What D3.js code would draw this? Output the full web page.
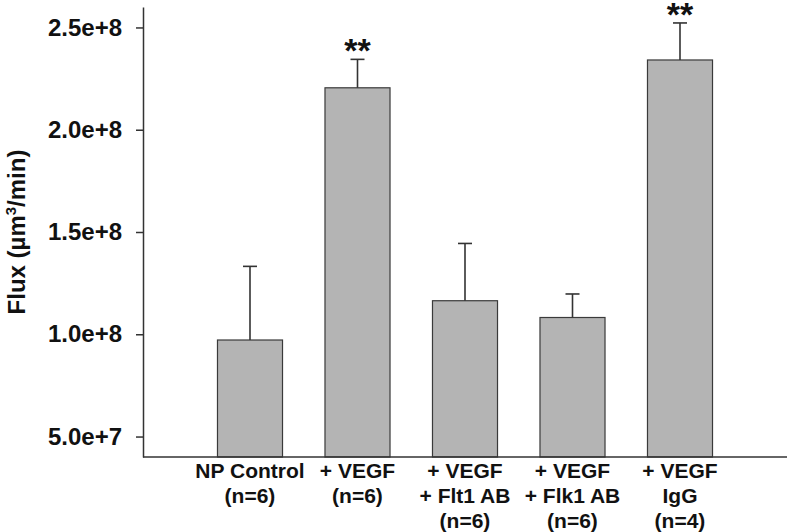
<!DOCTYPE html>
<html>
<head>
<meta charset="utf-8">
<script src="https://cdn.jsdelivr.net/npm/d3@7"></script>
<style>
  html, body { margin: 0; padding: 0; background: #fff; }
  svg { display: block; }
  text { font-family: "Liberation Sans", Arial, Helvetica, sans-serif; font-weight: bold; fill: #111; }
</style>
</head>
<body>
<svg id="chart" width="788" height="532"></svg>
<script>
// ---- data ----
const categories = ["NP Control", "+ VEGF", "+ VEGF + Flt1 AB", "+ VEGF + Flk1 AB", "+ VEGF IgG"];
const labelLines = [
  ["NP Control", "(n=6)"],
  ["+ VEGF", "(n=6)"],
  ["+ VEGF", "+ Flt1 AB", "(n=6)"],
  ["+ VEGF", "+ Flk1 AB", "(n=6)"],
  ["+ VEGF", "IgG", "(n=4)"]
];
const meanFlux = [9.72e7, 2.205e8, 1.164e8, 1.082e8, 2.341e8];
const errFlux  = [3.6e7, 1.39e7, 2.8e7, 1.15e7, 1.81e7];
const significance = ["", "**", "", "", "**"];
const yTicks = [5e7, 1e8, 1.5e8, 2e8, 2.5e8];
const yDomain = [4e7, 2.6e8];

// ---- layout ----
const svg = d3.select("#chart");
const axisX = 143, axisBottom = 457, axisTop = 7, axisRight = 787;

const y = d3.scaleLinear().domain(yDomain).range([axisBottom, axisTop]);
const x = d3.scaleBand().domain(categories).range([196.25, 733.75])
  .paddingInner(0.395).paddingOuter(0.1975);

// y axis
const yAxis = d3.axisLeft(y).tickValues(yTicks).tickFormat(d3.format(".1e"))
  .tickSizeInner(7).tickSizeOuter(0).tickPadding(14);
const gy = svg.append("g").attr("transform", `translate(${axisX},0)`).call(yAxis);
gy.select(".domain").attr("stroke", "#333").attr("stroke-width", 1.5);
gy.selectAll(".tick line").attr("stroke", "#333").attr("stroke-width", 1.5);
gy.selectAll(".tick text").attr("font-size", 24).attr("font-weight", "bold")
  .attr("font-family", '"Liberation Sans", Arial, sans-serif').attr("fill", "#111");

// bars
svg.append("g").selectAll("rect").data(categories).join("rect")
  .attr("x", d => x(d))
  .attr("width", x.bandwidth())
  .attr("y", (d, i) => y(meanFlux[i]))
  .attr("height", (d, i) => y(yDomain[0]) - y(meanFlux[i]))
  .attr("fill", "#b4b4b4")
  .attr("stroke", "#3a3a3a")
  .attr("stroke-width", 1.2);

// error bars (upper only)
const eg = svg.append("g").attr("stroke", "#333").attr("stroke-width", 1.6);
categories.forEach((c, i) => {
  const cx = x(c) + x.bandwidth() / 2;
  const top = y(meanFlux[i] + errFlux[i]);
  eg.append("line").attr("x1", cx).attr("x2", cx).attr("y1", y(meanFlux[i])).attr("y2", top);
  eg.append("line").attr("x1", cx - 7).attr("x2", cx + 7).attr("y1", top).attr("y2", top);
});

// significance stars
svg.append("g").selectAll("text").data(categories).join("text")
  .attr("x", d => x(d) + x.bandwidth() / 2)
  .attr("y", (d, i) => y(meanFlux[i] + errFlux[i]) + 3)
  .attr("text-anchor", "middle")
  .attr("font-size", 34)
  .text((d, i) => significance[i]);

// x axis line
svg.append("line").attr("x1", axisX).attr("x2", axisRight)
  .attr("y1", axisBottom).attr("y2", axisBottom)
  .attr("stroke", "#333").attr("stroke-width", 1.5);

// category labels
const lg = svg.append("g");
categories.forEach((c, i) => {
  const t = lg.append("text")
    .attr("x", x(c) + x.bandwidth() / 2)
    .attr("y", 478)
    .attr("text-anchor", "middle")
    .attr("font-size", 21);
  labelLines[i].forEach((line, j) => {
    t.append("tspan").attr("x", x(c) + x.bandwidth() / 2)
      .attr("dy", j === 0 ? 0 : 25).text(line);
  });
});

// y axis title
const yt = svg.append("text")
  .attr("transform", `translate(25,232) rotate(-90)`)
  .attr("text-anchor", "middle")
  .attr("font-size", 24);
yt.append("tspan").text("Flux (\u00b5m");
yt.append("tspan").attr("font-size", 15).attr("dy", -9).text("3");
yt.append("tspan").attr("dy", 9).text("/min)");
</script>
</body>
</html>
